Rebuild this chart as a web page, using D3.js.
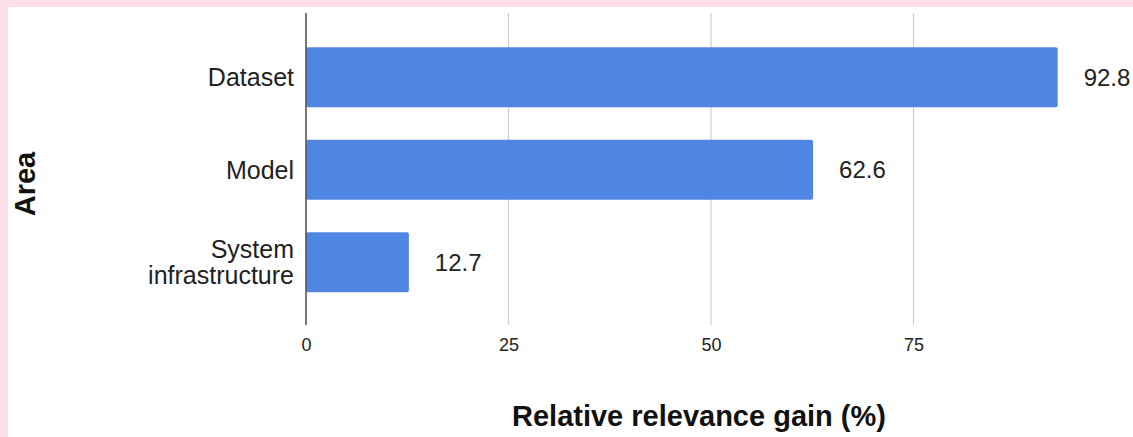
<!DOCTYPE html>
<html>
<head>
<meta charset="utf-8">
<script src="https://cdn.jsdelivr.net/npm/d3@7"></script>
<style>
  html, body { margin: 0; padding: 0; background: #fde0e9; }
  svg { display: block; }
  text { font-family: "Liberation Sans", Arial, sans-serif; }
</style>
</head>
<body>
<svg id="chart" width="1133" height="437"></svg>
<script>
// Relative relevance gain by area
const categories = [["Dataset"], ["Model"], ["System", "infrastructure"]];
const values = [92.8, 62.6, 12.7];
const tickValues = [0, 25, 50, 75];
const xTitle = "Relative relevance gain (%)";
const yTitle = "Area";

const svg = d3.select("#chart");

// white card inside the pink frame
svg.append("rect")
  .attr("x", 8).attr("y", 7)
  .attr("width", 1133 - 8).attr("height", 437 - 7)
  .attr("fill", "#ffffff");

const keys = categories.map(c => c.join(" "));

const x = d3.scaleLinear().domain([0, 100]).range([306, 1116]);
const y = d3.scaleBand()
  .domain(keys)
  .range([31, 308.5])
  .paddingInner(0.35)
  .paddingOuter(0.175);

const plotTop = 13, plotBottom = 325;

// vertical gridlines
svg.append("g")
  .selectAll("line")
  .data(tickValues.filter(t => t !== 0))
  .join("line")
  .attr("x1", d => x(d)).attr("x2", d => x(d))
  .attr("y1", plotTop).attr("y2", plotBottom)
  .attr("stroke", "#cfcfcf")
  .attr("stroke-width", 1.2);

// bars
svg.append("g")
  .selectAll("rect")
  .data(values)
  .join("rect")
  .attr("x", x(0))
  .attr("y", (d, i) => y(keys[i]))
  .attr("width", d => x(d) - x(0))
  .attr("height", y.bandwidth())
  .attr("rx", 2)
  .attr("fill", "#5086e3");

// baseline axis at zero
svg.append("line")
  .attr("x1", x(0)).attr("x2", x(0))
  .attr("y1", plotTop).attr("y2", plotBottom)
  .attr("stroke", "#555555")
  .attr("stroke-width", 1.6);

// x tick labels
const xAxis = d3.axisBottom(x).tickValues(tickValues).tickSize(0).tickPadding(0);
const gx = svg.append("g")
  .attr("transform", `translate(0, ${plotBottom + 26})`)
  .call(xAxis);
gx.select(".domain").remove();
gx.selectAll("text")
  .attr("dy", 0)
  .attr("font-size", 18)
  .attr("fill", "#222222")
  .style("font-family", "\"Liberation Sans\", Arial, sans-serif");

// value labels
svg.append("g")
  .selectAll("text")
  .data(values)
  .join("text")
  .attr("x", d => x(d) + 26)
  .attr("y", (d, i) => y(keys[i]) + y.bandwidth() / 2)
  .attr("dy", "0.35em")
  .attr("font-size", 24)
  .attr("fill", "#222222")
  .text(d => d.toFixed(1));

// category labels (multi-line where needed)
const lineHeight = 26;
const catText = svg.append("g")
  .selectAll("text")
  .data(categories)
  .join("text")
  .attr("text-anchor", "end")
  .attr("font-size", 25)
  .attr("fill", "#222222")
  .attr("transform", (d, i) => `translate(294, ${y(keys[i]) + y.bandwidth() / 2})`);
catText.each(function (lines) {
  const t = d3.select(this);
  const offset = -(lines.length - 1) * lineHeight / 2;
  lines.forEach((ln, j) => {
    t.append("tspan")
      .attr("x", 0)
      .attr("y", offset + j * lineHeight)
      .attr("dy", "0.35em")
      .text(ln);
  });
});

// axis titles
svg.append("text")
  .attr("x", 699)
  .attr("y", 426)
  .attr("text-anchor", "middle")
  .attr("font-size", 29)
  .attr("font-weight", "bold")
  .attr("fill", "#111111")
  .text(xTitle);

svg.append("text")
  .attr("transform", "translate(35, 184) rotate(-90)")
  .attr("text-anchor", "middle")
  .attr("font-size", 29)
  .attr("font-weight", "bold")
  .attr("fill", "#111111")
  .text(yTitle);
</script>
</body>
</html>
